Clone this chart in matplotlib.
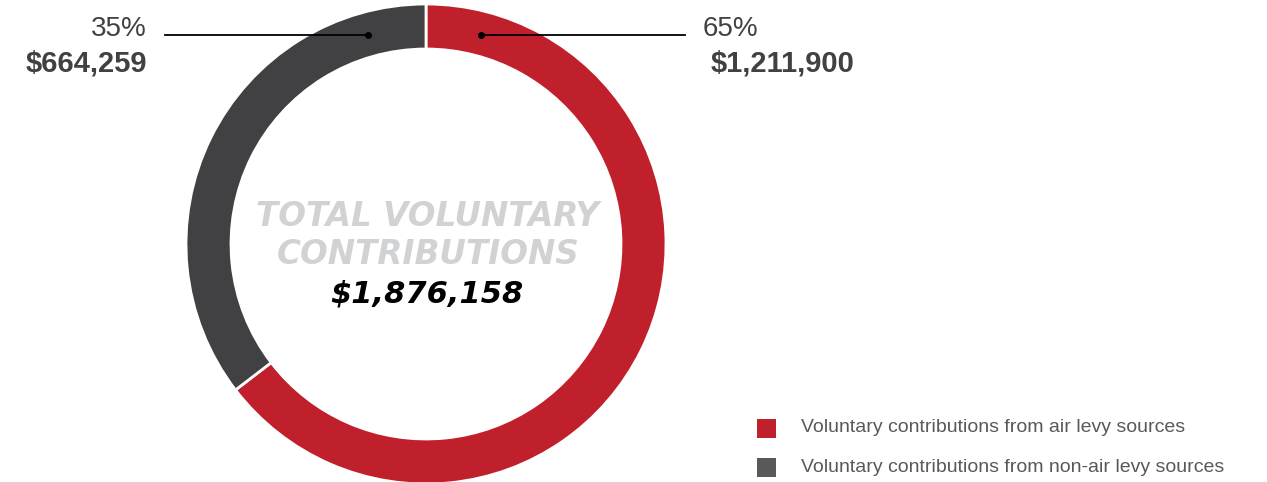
import matplotlib.pyplot as plt
from matplotlib.patches import Rectangle

plt.rcParams['font.family'] = ['Liberation Sans', 'DejaVu Sans']

labels = ["Voluntary contributions from air levy sources",
          "Voluntary contributions from non-air levy sources"]
values = [1211900, 664259]
percents = ["65%", "35%"]
amounts = ["$1,211,900", "$664,259"]
total = "$1,876,158"
colors = ["#C0202B", "#414042"]
legend_colors = ["#C0202B", "#58595B"]

W, H = 1267, 482
fig = plt.figure(figsize=(W / 100, H / 100), dpi=100)
ax = fig.add_axes([0, 0, 1, 1])

# donut (y axis inverted, so counterclock=True draws clockwise on screen)
cx, cy, r = 426, 244, 240
ax.pie(values, colors=colors, startangle=-90, counterclock=True,
       center=(cx, cy), radius=r, frame=True,
       wedgeprops=dict(width=45, edgecolor="white", linewidth=2))
ax.set_xlim(0, W)
ax.set_ylim(H, 0)
ax.set_aspect("equal")
ax.axis("off")

# callouts
ax.plot([481, 685], [35, 35], color="black", lw=1.3)
ax.plot([481], [35], "o", color="black", ms=4)
ax.text(703, 29, percents[0], fontsize=20, color="#414042", va="center", ha="left")
ax.text(711, 63, amounts[0], fontsize=21, fontweight="bold", color="#414042",
        va="center", ha="left")

ax.plot([165, 368], [35, 35], color="black", lw=1.3)
ax.plot([368], [35], "o", color="black", ms=4)
ax.text(147, 29, percents[1], fontsize=20, color="#414042", va="center", ha="right")
ax.text(147, 63, amounts[1], fontsize=21, fontweight="bold", color="#414042",
        va="center", ha="right")

# centre text
centre_font = dict(family="DejaVu Sans", fontweight="bold", style="italic",
                   ha="center", va="center")
ax.text(cx + 2, 216, "TOTAL VOLUNTARY", fontsize=23.5, color="#D1D2D4", **centre_font)
ax.text(cx + 2, 255, "CONTRIBUTIONS", fontsize=23.5, color="#D1D2D4", **centre_font)
ax.text(cx + 1, 294, total, fontsize=22, color="black", **centre_font)

# legend
for i, (lab, col) in enumerate(zip(labels, legend_colors)):
    y = 428 + i * 39
    ax.add_patch(Rectangle((757, y - 9.5), 19, 19, color=col, lw=0))
    ax.text(801, y, lab, fontsize=14, color="#58595B", va="center", ha="left")

fig.savefig("out.png", dpi=100)
